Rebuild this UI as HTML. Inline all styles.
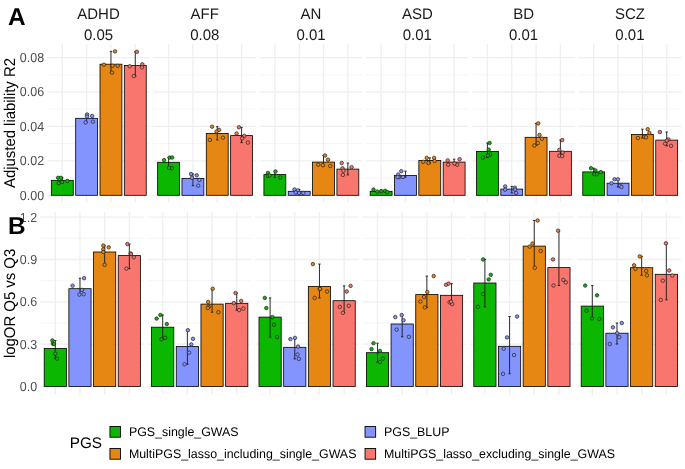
<!DOCTYPE html>
<html><head><meta charset="utf-8"><style>
html,body{margin:0;padding:0;background:#fff;}
svg{display:block;font-family:"Liberation Sans", sans-serif;text-rendering:geometricPrecision;}
.t{will-change:transform;}
</style></head><body>
<svg class="t" width="685" height="469" viewBox="0 0 685 469">
<rect width="685" height="469" fill="#fff"/>
<line x1="47.1" x2="149.85" y1="178.08" y2="178.08" stroke="#F4F4F4" stroke-width="0.9"/>
<line x1="47.1" x2="149.85" y1="143.64" y2="143.64" stroke="#F4F4F4" stroke-width="0.9"/>
<line x1="47.1" x2="149.85" y1="109.2" y2="109.2" stroke="#F4F4F4" stroke-width="0.9"/>
<line x1="47.1" x2="149.85" y1="74.76" y2="74.76" stroke="#F4F4F4" stroke-width="0.9"/>
<line x1="47.1" x2="149.85" y1="195.3" y2="195.3" stroke="#EFEFEF" stroke-width="1.3"/>
<line x1="47.1" x2="149.85" y1="160.86" y2="160.86" stroke="#EFEFEF" stroke-width="1.3"/>
<line x1="47.1" x2="149.85" y1="126.42" y2="126.42" stroke="#EFEFEF" stroke-width="1.3"/>
<line x1="47.1" x2="149.85" y1="91.98" y2="91.98" stroke="#EFEFEF" stroke-width="1.3"/>
<line x1="47.1" x2="149.85" y1="57.54" y2="57.54" stroke="#EFEFEF" stroke-width="1.3"/>
<line x1="62.3" x2="62.3" y1="44" y2="202.6" stroke="#EFEFEF" stroke-width="1.3"/>
<line x1="86.63" x2="86.63" y1="44" y2="202.6" stroke="#EFEFEF" stroke-width="1.3"/>
<line x1="110.96" x2="110.96" y1="44" y2="202.6" stroke="#EFEFEF" stroke-width="1.3"/>
<line x1="135.29" x2="135.29" y1="44" y2="202.6" stroke="#EFEFEF" stroke-width="1.3"/>
<rect x="51.35" y="180.3" width="21.9" height="15" fill="#0CB702" stroke="#000" stroke-width="0.8"/>
<rect x="75.68" y="118.3" width="21.9" height="77" fill="#8494FF" stroke="#000" stroke-width="0.8"/>
<rect x="100.01" y="64.2" width="21.9" height="131.1" fill="#E68613" stroke="#000" stroke-width="0.8"/>
<rect x="124.34" y="65.4" width="21.9" height="129.9" fill="#F8766D" stroke="#000" stroke-width="0.8"/>
<path d="M62.3 177.8V183.2M61.1 177.8H63.5M61.1 183.2H63.5" stroke="#1a1a1a" stroke-width="0.9" fill="none"/>
<circle cx="58.1" cy="177.8" r="1.75" fill="#0CB702" stroke="#222" stroke-width="0.7"/>
<circle cx="60.9" cy="177.8" r="1.75" fill="#0CB702" stroke="#222" stroke-width="0.7"/>
<circle cx="58.7" cy="183.2" r="1.75" fill="#0CB702" stroke="#222" stroke-width="0.7"/>
<circle cx="67.3" cy="181" r="1.75" fill="#0CB702" stroke="#222" stroke-width="0.7"/>
<circle cx="62" cy="182" r="1.75" fill="#0CB702" stroke="#222" stroke-width="0.7"/>
<path d="M86.63 114.5V122.4M85.43 114.5H87.83M85.43 122.4H87.83" stroke="#1a1a1a" stroke-width="0.9" fill="none"/>
<circle cx="87.1" cy="114.5" r="1.75" fill="#8494FF" stroke="#222" stroke-width="0.7"/>
<circle cx="87" cy="116.5" r="1.75" fill="#8494FF" stroke="#222" stroke-width="0.7"/>
<circle cx="92.2" cy="116" r="1.75" fill="#8494FF" stroke="#222" stroke-width="0.7"/>
<circle cx="85.6" cy="122.4" r="1.75" fill="#8494FF" stroke="#222" stroke-width="0.7"/>
<circle cx="92.8" cy="121.7" r="1.75" fill="#8494FF" stroke="#222" stroke-width="0.7"/>
<path d="M110.96 51.4V72.6M109.76 51.4H112.16M109.76 72.6H112.16" stroke="#1a1a1a" stroke-width="0.9" fill="none"/>
<circle cx="115" cy="51.4" r="1.75" fill="#E68613" stroke="#222" stroke-width="0.7"/>
<circle cx="103.9" cy="64.7" r="1.75" fill="#E68613" stroke="#222" stroke-width="0.7"/>
<circle cx="112.6" cy="65.8" r="1.75" fill="#E68613" stroke="#222" stroke-width="0.7"/>
<circle cx="117.7" cy="65.8" r="1.75" fill="#E68613" stroke="#222" stroke-width="0.7"/>
<circle cx="112" cy="72.6" r="1.75" fill="#E68613" stroke="#222" stroke-width="0.7"/>
<path d="M135.29 51.8V76.1M134.09 51.8H136.49M134.09 76.1H136.49" stroke="#1a1a1a" stroke-width="0.9" fill="none"/>
<circle cx="136.9" cy="51.8" r="1.75" fill="#F8766D" stroke="#222" stroke-width="0.7"/>
<circle cx="129.7" cy="66.3" r="1.75" fill="#F8766D" stroke="#222" stroke-width="0.7"/>
<circle cx="142.3" cy="64.3" r="1.75" fill="#F8766D" stroke="#222" stroke-width="0.7"/>
<circle cx="141.9" cy="67.3" r="1.75" fill="#F8766D" stroke="#222" stroke-width="0.7"/>
<circle cx="133.8" cy="76.1" r="1.75" fill="#F8766D" stroke="#222" stroke-width="0.7"/>
<line x1="153.38" x2="256.13" y1="178.08" y2="178.08" stroke="#F4F4F4" stroke-width="0.9"/>
<line x1="153.38" x2="256.13" y1="143.64" y2="143.64" stroke="#F4F4F4" stroke-width="0.9"/>
<line x1="153.38" x2="256.13" y1="109.2" y2="109.2" stroke="#F4F4F4" stroke-width="0.9"/>
<line x1="153.38" x2="256.13" y1="74.76" y2="74.76" stroke="#F4F4F4" stroke-width="0.9"/>
<line x1="153.38" x2="256.13" y1="195.3" y2="195.3" stroke="#EFEFEF" stroke-width="1.3"/>
<line x1="153.38" x2="256.13" y1="160.86" y2="160.86" stroke="#EFEFEF" stroke-width="1.3"/>
<line x1="153.38" x2="256.13" y1="126.42" y2="126.42" stroke="#EFEFEF" stroke-width="1.3"/>
<line x1="153.38" x2="256.13" y1="91.98" y2="91.98" stroke="#EFEFEF" stroke-width="1.3"/>
<line x1="153.38" x2="256.13" y1="57.54" y2="57.54" stroke="#EFEFEF" stroke-width="1.3"/>
<line x1="168.58" x2="168.58" y1="44" y2="202.6" stroke="#EFEFEF" stroke-width="1.3"/>
<line x1="192.91" x2="192.91" y1="44" y2="202.6" stroke="#EFEFEF" stroke-width="1.3"/>
<line x1="217.24" x2="217.24" y1="44" y2="202.6" stroke="#EFEFEF" stroke-width="1.3"/>
<line x1="241.57" x2="241.57" y1="44" y2="202.6" stroke="#EFEFEF" stroke-width="1.3"/>
<rect x="157.63" y="162.3" width="21.9" height="33" fill="#0CB702" stroke="#000" stroke-width="0.8"/>
<rect x="181.96" y="178.5" width="21.9" height="16.8" fill="#8494FF" stroke="#000" stroke-width="0.8"/>
<rect x="206.29" y="133.5" width="21.9" height="61.8" fill="#E68613" stroke="#000" stroke-width="0.8"/>
<rect x="230.62" y="135.6" width="21.9" height="59.7" fill="#F8766D" stroke="#000" stroke-width="0.8"/>
<path d="M168.58 157.6V168.2M167.38 157.6H169.78M167.38 168.2H169.78" stroke="#1a1a1a" stroke-width="0.9" fill="none"/>
<circle cx="164.1" cy="160.1" r="1.75" fill="#0CB702" stroke="#222" stroke-width="0.7"/>
<circle cx="169.6" cy="157.6" r="1.75" fill="#0CB702" stroke="#222" stroke-width="0.7"/>
<circle cx="172.2" cy="157.6" r="1.75" fill="#0CB702" stroke="#222" stroke-width="0.7"/>
<circle cx="171.8" cy="168.2" r="1.75" fill="#0CB702" stroke="#222" stroke-width="0.7"/>
<circle cx="169" cy="167.8" r="1.75" fill="#0CB702" stroke="#222" stroke-width="0.7"/>
<path d="M192.91 174V185.7M191.71 174H194.11M191.71 185.7H194.11" stroke="#1a1a1a" stroke-width="0.9" fill="none"/>
<circle cx="191" cy="174" r="1.75" fill="#8494FF" stroke="#222" stroke-width="0.7"/>
<circle cx="196.7" cy="175.3" r="1.75" fill="#8494FF" stroke="#222" stroke-width="0.7"/>
<circle cx="192" cy="177.8" r="1.75" fill="#8494FF" stroke="#222" stroke-width="0.7"/>
<circle cx="199.3" cy="180" r="1.75" fill="#8494FF" stroke="#222" stroke-width="0.7"/>
<circle cx="198.2" cy="185.7" r="1.75" fill="#8494FF" stroke="#222" stroke-width="0.7"/>
<path d="M217.24 126.7V139.9M216.04 126.7H218.44M216.04 139.9H218.44" stroke="#1a1a1a" stroke-width="0.9" fill="none"/>
<circle cx="212.1" cy="126.7" r="1.75" fill="#E68613" stroke="#222" stroke-width="0.7"/>
<circle cx="219.1" cy="129.9" r="1.75" fill="#E68613" stroke="#222" stroke-width="0.7"/>
<circle cx="216.5" cy="131.6" r="1.75" fill="#E68613" stroke="#222" stroke-width="0.7"/>
<circle cx="209.9" cy="139.9" r="1.75" fill="#E68613" stroke="#222" stroke-width="0.7"/>
<circle cx="222.9" cy="137.7" r="1.75" fill="#E68613" stroke="#222" stroke-width="0.7"/>
<path d="M241.57 127.3V142.6M240.37 127.3H242.77M240.37 142.6H242.77" stroke="#1a1a1a" stroke-width="0.9" fill="none"/>
<circle cx="238.9" cy="127.3" r="1.75" fill="#F8766D" stroke="#222" stroke-width="0.7"/>
<circle cx="236.6" cy="133.5" r="1.75" fill="#F8766D" stroke="#222" stroke-width="0.7"/>
<circle cx="244.3" cy="135.8" r="1.75" fill="#F8766D" stroke="#222" stroke-width="0.7"/>
<circle cx="242.1" cy="138.4" r="1.75" fill="#F8766D" stroke="#222" stroke-width="0.7"/>
<circle cx="247.9" cy="142.6" r="1.75" fill="#F8766D" stroke="#222" stroke-width="0.7"/>
<line x1="259.66" x2="362.41" y1="178.08" y2="178.08" stroke="#F4F4F4" stroke-width="0.9"/>
<line x1="259.66" x2="362.41" y1="143.64" y2="143.64" stroke="#F4F4F4" stroke-width="0.9"/>
<line x1="259.66" x2="362.41" y1="109.2" y2="109.2" stroke="#F4F4F4" stroke-width="0.9"/>
<line x1="259.66" x2="362.41" y1="74.76" y2="74.76" stroke="#F4F4F4" stroke-width="0.9"/>
<line x1="259.66" x2="362.41" y1="195.3" y2="195.3" stroke="#EFEFEF" stroke-width="1.3"/>
<line x1="259.66" x2="362.41" y1="160.86" y2="160.86" stroke="#EFEFEF" stroke-width="1.3"/>
<line x1="259.66" x2="362.41" y1="126.42" y2="126.42" stroke="#EFEFEF" stroke-width="1.3"/>
<line x1="259.66" x2="362.41" y1="91.98" y2="91.98" stroke="#EFEFEF" stroke-width="1.3"/>
<line x1="259.66" x2="362.41" y1="57.54" y2="57.54" stroke="#EFEFEF" stroke-width="1.3"/>
<line x1="274.86" x2="274.86" y1="44" y2="202.6" stroke="#EFEFEF" stroke-width="1.3"/>
<line x1="299.19" x2="299.19" y1="44" y2="202.6" stroke="#EFEFEF" stroke-width="1.3"/>
<line x1="323.52" x2="323.52" y1="44" y2="202.6" stroke="#EFEFEF" stroke-width="1.3"/>
<line x1="347.85" x2="347.85" y1="44" y2="202.6" stroke="#EFEFEF" stroke-width="1.3"/>
<rect x="263.91" y="174.6" width="21.9" height="20.7" fill="#0CB702" stroke="#000" stroke-width="0.8"/>
<rect x="288.24" y="191.3" width="21.9" height="4" fill="#8494FF" stroke="#000" stroke-width="0.8"/>
<rect x="312.57" y="162.1" width="21.9" height="33.2" fill="#E68613" stroke="#000" stroke-width="0.8"/>
<rect x="336.9" y="169.1" width="21.9" height="26.2" fill="#F8766D" stroke="#000" stroke-width="0.8"/>
<path d="M274.86 171.5V177.5M273.66 171.5H276.06M273.66 177.5H276.06" stroke="#1a1a1a" stroke-width="0.9" fill="none"/>
<circle cx="267.9" cy="172.9" r="1.75" fill="#0CB702" stroke="#222" stroke-width="0.7"/>
<circle cx="275.5" cy="171.5" r="1.75" fill="#0CB702" stroke="#222" stroke-width="0.7"/>
<circle cx="267.9" cy="175.8" r="1.75" fill="#0CB702" stroke="#222" stroke-width="0.7"/>
<circle cx="269.6" cy="175.4" r="1.75" fill="#0CB702" stroke="#222" stroke-width="0.7"/>
<circle cx="280.3" cy="177.5" r="1.75" fill="#0CB702" stroke="#222" stroke-width="0.7"/>
<path d="M299.19 189.4V193M297.99 189.4H300.39M297.99 193H300.39" stroke="#1a1a1a" stroke-width="0.9" fill="none"/>
<circle cx="294.5" cy="189.4" r="1.75" fill="#8494FF" stroke="#222" stroke-width="0.7"/>
<circle cx="297.9" cy="190.4" r="1.75" fill="#8494FF" stroke="#222" stroke-width="0.7"/>
<circle cx="295.7" cy="192.5" r="1.75" fill="#8494FF" stroke="#222" stroke-width="0.7"/>
<circle cx="299.1" cy="193" r="1.75" fill="#8494FF" stroke="#222" stroke-width="0.7"/>
<circle cx="303.3" cy="193" r="1.75" fill="#8494FF" stroke="#222" stroke-width="0.7"/>
<path d="M323.52 155.5V166M322.32 155.5H324.72M322.32 166H324.72" stroke="#1a1a1a" stroke-width="0.9" fill="none"/>
<circle cx="325" cy="155.5" r="1.75" fill="#E68613" stroke="#222" stroke-width="0.7"/>
<circle cx="328" cy="159.7" r="1.75" fill="#E68613" stroke="#222" stroke-width="0.7"/>
<circle cx="318.2" cy="164.7" r="1.75" fill="#E68613" stroke="#222" stroke-width="0.7"/>
<circle cx="322.9" cy="165.2" r="1.75" fill="#E68613" stroke="#222" stroke-width="0.7"/>
<circle cx="330.3" cy="166" r="1.75" fill="#E68613" stroke="#222" stroke-width="0.7"/>
<path d="M347.85 163V174.9M346.65 163H349.05M346.65 174.9H349.05" stroke="#1a1a1a" stroke-width="0.9" fill="none"/>
<circle cx="341.7" cy="163" r="1.75" fill="#F8766D" stroke="#222" stroke-width="0.7"/>
<circle cx="342.5" cy="168.3" r="1.75" fill="#F8766D" stroke="#222" stroke-width="0.7"/>
<circle cx="351.6" cy="167.2" r="1.75" fill="#F8766D" stroke="#222" stroke-width="0.7"/>
<circle cx="343.4" cy="170.8" r="1.75" fill="#F8766D" stroke="#222" stroke-width="0.7"/>
<circle cx="342.9" cy="174.9" r="1.75" fill="#F8766D" stroke="#222" stroke-width="0.7"/>
<line x1="365.94" x2="468.69" y1="178.08" y2="178.08" stroke="#F4F4F4" stroke-width="0.9"/>
<line x1="365.94" x2="468.69" y1="143.64" y2="143.64" stroke="#F4F4F4" stroke-width="0.9"/>
<line x1="365.94" x2="468.69" y1="109.2" y2="109.2" stroke="#F4F4F4" stroke-width="0.9"/>
<line x1="365.94" x2="468.69" y1="74.76" y2="74.76" stroke="#F4F4F4" stroke-width="0.9"/>
<line x1="365.94" x2="468.69" y1="195.3" y2="195.3" stroke="#EFEFEF" stroke-width="1.3"/>
<line x1="365.94" x2="468.69" y1="160.86" y2="160.86" stroke="#EFEFEF" stroke-width="1.3"/>
<line x1="365.94" x2="468.69" y1="126.42" y2="126.42" stroke="#EFEFEF" stroke-width="1.3"/>
<line x1="365.94" x2="468.69" y1="91.98" y2="91.98" stroke="#EFEFEF" stroke-width="1.3"/>
<line x1="365.94" x2="468.69" y1="57.54" y2="57.54" stroke="#EFEFEF" stroke-width="1.3"/>
<line x1="381.14" x2="381.14" y1="44" y2="202.6" stroke="#EFEFEF" stroke-width="1.3"/>
<line x1="405.47" x2="405.47" y1="44" y2="202.6" stroke="#EFEFEF" stroke-width="1.3"/>
<line x1="429.8" x2="429.8" y1="44" y2="202.6" stroke="#EFEFEF" stroke-width="1.3"/>
<line x1="454.13" x2="454.13" y1="44" y2="202.6" stroke="#EFEFEF" stroke-width="1.3"/>
<rect x="370.19" y="191.3" width="21.9" height="4" fill="#0CB702" stroke="#000" stroke-width="0.8"/>
<rect x="394.52" y="175.4" width="21.9" height="19.9" fill="#8494FF" stroke="#000" stroke-width="0.8"/>
<rect x="418.85" y="160.4" width="21.9" height="34.9" fill="#E68613" stroke="#000" stroke-width="0.8"/>
<rect x="443.18" y="162.1" width="21.9" height="33.2" fill="#F8766D" stroke="#000" stroke-width="0.8"/>
<path d="M381.14 189.6V192.1M379.94 189.6H382.34M379.94 192.1H382.34" stroke="#1a1a1a" stroke-width="0.9" fill="none"/>
<circle cx="373.5" cy="189.6" r="1.75" fill="#0CB702" stroke="#222" stroke-width="0.7"/>
<circle cx="377.3" cy="191.6" r="1.75" fill="#0CB702" stroke="#222" stroke-width="0.7"/>
<circle cx="381.2" cy="191.3" r="1.75" fill="#0CB702" stroke="#222" stroke-width="0.7"/>
<circle cx="385.1" cy="190.8" r="1.75" fill="#0CB702" stroke="#222" stroke-width="0.7"/>
<circle cx="387.2" cy="192.1" r="1.75" fill="#0CB702" stroke="#222" stroke-width="0.7"/>
<path d="M405.47 171.2V177.1M404.27 171.2H406.67M404.27 177.1H406.67" stroke="#1a1a1a" stroke-width="0.9" fill="none"/>
<circle cx="401.3" cy="171.2" r="1.75" fill="#8494FF" stroke="#222" stroke-width="0.7"/>
<circle cx="398.2" cy="174.6" r="1.75" fill="#8494FF" stroke="#222" stroke-width="0.7"/>
<circle cx="399.1" cy="177.1" r="1.75" fill="#8494FF" stroke="#222" stroke-width="0.7"/>
<circle cx="403" cy="177" r="1.75" fill="#8494FF" stroke="#222" stroke-width="0.7"/>
<circle cx="397.5" cy="177.1" r="1.75" fill="#8494FF" stroke="#222" stroke-width="0.7"/>
<path d="M429.8 157.9V163M428.6 157.9H431M428.6 163H431" stroke="#1a1a1a" stroke-width="0.9" fill="none"/>
<circle cx="426.7" cy="157.9" r="1.75" fill="#E68613" stroke="#222" stroke-width="0.7"/>
<circle cx="434.1" cy="157.9" r="1.75" fill="#E68613" stroke="#222" stroke-width="0.7"/>
<circle cx="423.3" cy="161.8" r="1.75" fill="#E68613" stroke="#222" stroke-width="0.7"/>
<circle cx="428.4" cy="163" r="1.75" fill="#E68613" stroke="#222" stroke-width="0.7"/>
<circle cx="434.6" cy="160.9" r="1.75" fill="#E68613" stroke="#222" stroke-width="0.7"/>
<path d="M454.13 159.2V164.7M452.93 159.2H455.33M452.93 164.7H455.33" stroke="#1a1a1a" stroke-width="0.9" fill="none"/>
<circle cx="447.7" cy="160.4" r="1.75" fill="#F8766D" stroke="#222" stroke-width="0.7"/>
<circle cx="459.6" cy="159.2" r="1.75" fill="#F8766D" stroke="#222" stroke-width="0.7"/>
<circle cx="448.2" cy="164.7" r="1.75" fill="#F8766D" stroke="#222" stroke-width="0.7"/>
<circle cx="457.1" cy="164.7" r="1.75" fill="#F8766D" stroke="#222" stroke-width="0.7"/>
<circle cx="454.5" cy="163.5" r="1.75" fill="#F8766D" stroke="#222" stroke-width="0.7"/>
<line x1="472.22" x2="574.97" y1="178.08" y2="178.08" stroke="#F4F4F4" stroke-width="0.9"/>
<line x1="472.22" x2="574.97" y1="143.64" y2="143.64" stroke="#F4F4F4" stroke-width="0.9"/>
<line x1="472.22" x2="574.97" y1="109.2" y2="109.2" stroke="#F4F4F4" stroke-width="0.9"/>
<line x1="472.22" x2="574.97" y1="74.76" y2="74.76" stroke="#F4F4F4" stroke-width="0.9"/>
<line x1="472.22" x2="574.97" y1="195.3" y2="195.3" stroke="#EFEFEF" stroke-width="1.3"/>
<line x1="472.22" x2="574.97" y1="160.86" y2="160.86" stroke="#EFEFEF" stroke-width="1.3"/>
<line x1="472.22" x2="574.97" y1="126.42" y2="126.42" stroke="#EFEFEF" stroke-width="1.3"/>
<line x1="472.22" x2="574.97" y1="91.98" y2="91.98" stroke="#EFEFEF" stroke-width="1.3"/>
<line x1="472.22" x2="574.97" y1="57.54" y2="57.54" stroke="#EFEFEF" stroke-width="1.3"/>
<line x1="487.42" x2="487.42" y1="44" y2="202.6" stroke="#EFEFEF" stroke-width="1.3"/>
<line x1="511.75" x2="511.75" y1="44" y2="202.6" stroke="#EFEFEF" stroke-width="1.3"/>
<line x1="536.08" x2="536.08" y1="44" y2="202.6" stroke="#EFEFEF" stroke-width="1.3"/>
<line x1="560.41" x2="560.41" y1="44" y2="202.6" stroke="#EFEFEF" stroke-width="1.3"/>
<rect x="476.47" y="151.5" width="21.9" height="43.8" fill="#0CB702" stroke="#000" stroke-width="0.8"/>
<rect x="500.8" y="189.1" width="21.9" height="6.2" fill="#8494FF" stroke="#000" stroke-width="0.8"/>
<rect x="525.13" y="137.3" width="21.9" height="58" fill="#E68613" stroke="#000" stroke-width="0.8"/>
<rect x="549.46" y="151.3" width="21.9" height="44" fill="#F8766D" stroke="#000" stroke-width="0.8"/>
<path d="M487.42 143V157.6M486.22 143H488.62M486.22 157.6H488.62" stroke="#1a1a1a" stroke-width="0.9" fill="none"/>
<circle cx="489.6" cy="143" r="1.75" fill="#0CB702" stroke="#222" stroke-width="0.7"/>
<circle cx="488.7" cy="149.7" r="1.75" fill="#0CB702" stroke="#222" stroke-width="0.7"/>
<circle cx="490.2" cy="154.5" r="1.75" fill="#0CB702" stroke="#222" stroke-width="0.7"/>
<circle cx="482.9" cy="157.6" r="1.75" fill="#0CB702" stroke="#222" stroke-width="0.7"/>
<circle cx="487.9" cy="155.5" r="1.75" fill="#0CB702" stroke="#222" stroke-width="0.7"/>
<path d="M511.75 186.4V192.9M510.55 186.4H512.95M510.55 192.9H512.95" stroke="#1a1a1a" stroke-width="0.9" fill="none"/>
<circle cx="505.2" cy="186.4" r="1.75" fill="#8494FF" stroke="#222" stroke-width="0.7"/>
<circle cx="505.2" cy="189.7" r="1.75" fill="#8494FF" stroke="#222" stroke-width="0.7"/>
<circle cx="514.8" cy="187.7" r="1.75" fill="#8494FF" stroke="#222" stroke-width="0.7"/>
<circle cx="516.1" cy="192.9" r="1.75" fill="#8494FF" stroke="#222" stroke-width="0.7"/>
<circle cx="515" cy="189.5" r="1.75" fill="#8494FF" stroke="#222" stroke-width="0.7"/>
<path d="M536.08 123.4V145.5M534.88 123.4H537.28M534.88 145.5H537.28" stroke="#1a1a1a" stroke-width="0.9" fill="none"/>
<circle cx="538.2" cy="123.4" r="1.75" fill="#E68613" stroke="#222" stroke-width="0.7"/>
<circle cx="539.5" cy="135" r="1.75" fill="#E68613" stroke="#222" stroke-width="0.7"/>
<circle cx="542" cy="138.8" r="1.75" fill="#E68613" stroke="#222" stroke-width="0.7"/>
<circle cx="537.8" cy="143" r="1.75" fill="#E68613" stroke="#222" stroke-width="0.7"/>
<circle cx="534.3" cy="145.5" r="1.75" fill="#E68613" stroke="#222" stroke-width="0.7"/>
<path d="M560.41 140.1V156.1M559.21 140.1H561.61M559.21 156.1H561.61" stroke="#1a1a1a" stroke-width="0.9" fill="none"/>
<circle cx="562.2" cy="140.1" r="1.75" fill="#F8766D" stroke="#222" stroke-width="0.7"/>
<circle cx="559.3" cy="149.9" r="1.75" fill="#F8766D" stroke="#222" stroke-width="0.7"/>
<circle cx="562.7" cy="152.6" r="1.75" fill="#F8766D" stroke="#222" stroke-width="0.7"/>
<circle cx="559.3" cy="155.7" r="1.75" fill="#F8766D" stroke="#222" stroke-width="0.7"/>
<circle cx="562.2" cy="156.1" r="1.75" fill="#F8766D" stroke="#222" stroke-width="0.7"/>
<line x1="578.5" x2="681.25" y1="178.08" y2="178.08" stroke="#F4F4F4" stroke-width="0.9"/>
<line x1="578.5" x2="681.25" y1="143.64" y2="143.64" stroke="#F4F4F4" stroke-width="0.9"/>
<line x1="578.5" x2="681.25" y1="109.2" y2="109.2" stroke="#F4F4F4" stroke-width="0.9"/>
<line x1="578.5" x2="681.25" y1="74.76" y2="74.76" stroke="#F4F4F4" stroke-width="0.9"/>
<line x1="578.5" x2="681.25" y1="195.3" y2="195.3" stroke="#EFEFEF" stroke-width="1.3"/>
<line x1="578.5" x2="681.25" y1="160.86" y2="160.86" stroke="#EFEFEF" stroke-width="1.3"/>
<line x1="578.5" x2="681.25" y1="126.42" y2="126.42" stroke="#EFEFEF" stroke-width="1.3"/>
<line x1="578.5" x2="681.25" y1="91.98" y2="91.98" stroke="#EFEFEF" stroke-width="1.3"/>
<line x1="578.5" x2="681.25" y1="57.54" y2="57.54" stroke="#EFEFEF" stroke-width="1.3"/>
<line x1="593.7" x2="593.7" y1="44" y2="202.6" stroke="#EFEFEF" stroke-width="1.3"/>
<line x1="618.03" x2="618.03" y1="44" y2="202.6" stroke="#EFEFEF" stroke-width="1.3"/>
<line x1="642.36" x2="642.36" y1="44" y2="202.6" stroke="#EFEFEF" stroke-width="1.3"/>
<line x1="666.69" x2="666.69" y1="44" y2="202.6" stroke="#EFEFEF" stroke-width="1.3"/>
<rect x="582.75" y="171.9" width="21.9" height="23.4" fill="#0CB702" stroke="#000" stroke-width="0.8"/>
<rect x="607.08" y="183.2" width="21.9" height="12.1" fill="#8494FF" stroke="#000" stroke-width="0.8"/>
<rect x="631.41" y="134.5" width="21.9" height="60.8" fill="#E68613" stroke="#000" stroke-width="0.8"/>
<rect x="655.74" y="140.1" width="21.9" height="55.2" fill="#F8766D" stroke="#000" stroke-width="0.8"/>
<path d="M593.7 168.2V174.2M592.5 168.2H594.9M592.5 174.2H594.9" stroke="#1a1a1a" stroke-width="0.9" fill="none"/>
<circle cx="591" cy="168.2" r="1.75" fill="#0CB702" stroke="#222" stroke-width="0.7"/>
<circle cx="595.5" cy="170.4" r="1.75" fill="#0CB702" stroke="#222" stroke-width="0.7"/>
<circle cx="600.8" cy="172.1" r="1.75" fill="#0CB702" stroke="#222" stroke-width="0.7"/>
<circle cx="594.4" cy="174.2" r="1.75" fill="#0CB702" stroke="#222" stroke-width="0.7"/>
<circle cx="597" cy="174.2" r="1.75" fill="#0CB702" stroke="#222" stroke-width="0.7"/>
<path d="M618.03 179.3V187M616.83 179.3H619.23M616.83 187H619.23" stroke="#1a1a1a" stroke-width="0.9" fill="none"/>
<circle cx="614.5" cy="179.3" r="1.75" fill="#8494FF" stroke="#222" stroke-width="0.7"/>
<circle cx="617.9" cy="179.3" r="1.75" fill="#8494FF" stroke="#222" stroke-width="0.7"/>
<circle cx="611.5" cy="183.2" r="1.75" fill="#8494FF" stroke="#222" stroke-width="0.7"/>
<circle cx="620" cy="185.7" r="1.75" fill="#8494FF" stroke="#222" stroke-width="0.7"/>
<circle cx="621.5" cy="187" r="1.75" fill="#8494FF" stroke="#222" stroke-width="0.7"/>
<path d="M642.36 129.2V138M641.16 129.2H643.56M641.16 138H643.56" stroke="#1a1a1a" stroke-width="0.9" fill="none"/>
<circle cx="647.7" cy="129.2" r="1.75" fill="#E68613" stroke="#222" stroke-width="0.7"/>
<circle cx="649.4" cy="133" r="1.75" fill="#E68613" stroke="#222" stroke-width="0.7"/>
<circle cx="637.9" cy="138" r="1.75" fill="#E68613" stroke="#222" stroke-width="0.7"/>
<circle cx="644.3" cy="136.7" r="1.75" fill="#E68613" stroke="#222" stroke-width="0.7"/>
<circle cx="646" cy="137.3" r="1.75" fill="#E68613" stroke="#222" stroke-width="0.7"/>
<path d="M666.69 132V145.8M665.49 132H667.89M665.49 145.8H667.89" stroke="#1a1a1a" stroke-width="0.9" fill="none"/>
<circle cx="659.9" cy="132" r="1.75" fill="#F8766D" stroke="#222" stroke-width="0.7"/>
<circle cx="668.4" cy="139.4" r="1.75" fill="#F8766D" stroke="#222" stroke-width="0.7"/>
<circle cx="665.2" cy="143.7" r="1.75" fill="#F8766D" stroke="#222" stroke-width="0.7"/>
<circle cx="671" cy="145.8" r="1.75" fill="#F8766D" stroke="#222" stroke-width="0.7"/>
<circle cx="666.9" cy="140.5" r="1.75" fill="#F8766D" stroke="#222" stroke-width="0.7"/>
<line x1="40.5" x2="143.8" y1="365.25" y2="365.25" stroke="#F4F4F4" stroke-width="0.9"/>
<line x1="40.5" x2="143.8" y1="322.95" y2="322.95" stroke="#F4F4F4" stroke-width="0.9"/>
<line x1="40.5" x2="143.8" y1="280.65" y2="280.65" stroke="#F4F4F4" stroke-width="0.9"/>
<line x1="40.5" x2="143.8" y1="238.35" y2="238.35" stroke="#F4F4F4" stroke-width="0.9"/>
<line x1="40.5" x2="143.8" y1="386.4" y2="386.4" stroke="#EFEFEF" stroke-width="1.3"/>
<line x1="40.5" x2="143.8" y1="344.1" y2="344.1" stroke="#EFEFEF" stroke-width="1.3"/>
<line x1="40.5" x2="143.8" y1="301.8" y2="301.8" stroke="#EFEFEF" stroke-width="1.3"/>
<line x1="40.5" x2="143.8" y1="259.5" y2="259.5" stroke="#EFEFEF" stroke-width="1.3"/>
<line x1="40.5" x2="143.8" y1="217.2" y2="217.2" stroke="#EFEFEF" stroke-width="1.3"/>
<line x1="55.3" x2="55.3" y1="212" y2="394.9" stroke="#EFEFEF" stroke-width="1.3"/>
<line x1="79.98" x2="79.98" y1="212" y2="394.9" stroke="#EFEFEF" stroke-width="1.3"/>
<line x1="104.66" x2="104.66" y1="212" y2="394.9" stroke="#EFEFEF" stroke-width="1.3"/>
<line x1="129.34" x2="129.34" y1="212" y2="394.9" stroke="#EFEFEF" stroke-width="1.3"/>
<rect x="44.19" y="348.4" width="22.21" height="38" fill="#0CB702" stroke="#000" stroke-width="0.8"/>
<rect x="68.87" y="288.7" width="22.21" height="97.7" fill="#8494FF" stroke="#000" stroke-width="0.8"/>
<rect x="93.55" y="252" width="22.21" height="134.4" fill="#E68613" stroke="#000" stroke-width="0.8"/>
<rect x="118.23" y="255.6" width="22.21" height="130.8" fill="#F8766D" stroke="#000" stroke-width="0.8"/>
<path d="M55.3 340.5V358.6M54.1 340.5H56.5M54.1 358.6H56.5" stroke="#1a1a1a" stroke-width="0.9" fill="none"/>
<circle cx="52.4" cy="340.5" r="1.75" fill="#0CB702" stroke="#222" stroke-width="0.7"/>
<circle cx="52.8" cy="343.7" r="1.75" fill="#0CB702" stroke="#222" stroke-width="0.7"/>
<circle cx="54" cy="344" r="1.75" fill="#0CB702" stroke="#222" stroke-width="0.7"/>
<circle cx="55.4" cy="353.7" r="1.75" fill="#0CB702" stroke="#222" stroke-width="0.7"/>
<circle cx="57.1" cy="358.6" r="1.75" fill="#0CB702" stroke="#222" stroke-width="0.7"/>
<path d="M79.98 278.2V294.6M78.78 278.2H81.18M78.78 294.6H81.18" stroke="#1a1a1a" stroke-width="0.9" fill="none"/>
<circle cx="84.1" cy="278.2" r="1.75" fill="#8494FF" stroke="#222" stroke-width="0.7"/>
<circle cx="72.6" cy="285.7" r="1.75" fill="#8494FF" stroke="#222" stroke-width="0.7"/>
<circle cx="82" cy="289.9" r="1.75" fill="#8494FF" stroke="#222" stroke-width="0.7"/>
<circle cx="79.4" cy="294.6" r="1.75" fill="#8494FF" stroke="#222" stroke-width="0.7"/>
<circle cx="83.7" cy="294.2" r="1.75" fill="#8494FF" stroke="#222" stroke-width="0.7"/>
<path d="M104.66 245.6V264.8M103.46 245.6H105.86M103.46 264.8H105.86" stroke="#1a1a1a" stroke-width="0.9" fill="none"/>
<circle cx="103.3" cy="245.6" r="1.75" fill="#E68613" stroke="#222" stroke-width="0.7"/>
<circle cx="108.7" cy="247.3" r="1.75" fill="#E68613" stroke="#222" stroke-width="0.7"/>
<circle cx="103.3" cy="249.2" r="1.75" fill="#E68613" stroke="#222" stroke-width="0.7"/>
<circle cx="103.3" cy="252" r="1.75" fill="#E68613" stroke="#222" stroke-width="0.7"/>
<circle cx="104.6" cy="264.8" r="1.75" fill="#E68613" stroke="#222" stroke-width="0.7"/>
<path d="M129.34 244.1V268.6M128.14 244.1H130.54M128.14 268.6H130.54" stroke="#1a1a1a" stroke-width="0.9" fill="none"/>
<circle cx="127.4" cy="244.1" r="1.75" fill="#F8766D" stroke="#222" stroke-width="0.7"/>
<circle cx="130.6" cy="253.5" r="1.75" fill="#F8766D" stroke="#222" stroke-width="0.7"/>
<circle cx="133.8" cy="257.3" r="1.75" fill="#F8766D" stroke="#222" stroke-width="0.7"/>
<circle cx="126.4" cy="268.6" r="1.75" fill="#F8766D" stroke="#222" stroke-width="0.7"/>
<circle cx="131" cy="254" r="1.75" fill="#F8766D" stroke="#222" stroke-width="0.7"/>
<line x1="147.9" x2="251.2" y1="365.25" y2="365.25" stroke="#F4F4F4" stroke-width="0.9"/>
<line x1="147.9" x2="251.2" y1="322.95" y2="322.95" stroke="#F4F4F4" stroke-width="0.9"/>
<line x1="147.9" x2="251.2" y1="280.65" y2="280.65" stroke="#F4F4F4" stroke-width="0.9"/>
<line x1="147.9" x2="251.2" y1="238.35" y2="238.35" stroke="#F4F4F4" stroke-width="0.9"/>
<line x1="147.9" x2="251.2" y1="386.4" y2="386.4" stroke="#EFEFEF" stroke-width="1.3"/>
<line x1="147.9" x2="251.2" y1="344.1" y2="344.1" stroke="#EFEFEF" stroke-width="1.3"/>
<line x1="147.9" x2="251.2" y1="301.8" y2="301.8" stroke="#EFEFEF" stroke-width="1.3"/>
<line x1="147.9" x2="251.2" y1="259.5" y2="259.5" stroke="#EFEFEF" stroke-width="1.3"/>
<line x1="147.9" x2="251.2" y1="217.2" y2="217.2" stroke="#EFEFEF" stroke-width="1.3"/>
<line x1="162.7" x2="162.7" y1="212" y2="394.9" stroke="#EFEFEF" stroke-width="1.3"/>
<line x1="187.38" x2="187.38" y1="212" y2="394.9" stroke="#EFEFEF" stroke-width="1.3"/>
<line x1="212.06" x2="212.06" y1="212" y2="394.9" stroke="#EFEFEF" stroke-width="1.3"/>
<line x1="236.74" x2="236.74" y1="212" y2="394.9" stroke="#EFEFEF" stroke-width="1.3"/>
<rect x="151.59" y="327.2" width="22.21" height="59.2" fill="#0CB702" stroke="#000" stroke-width="0.8"/>
<rect x="176.27" y="346.4" width="22.21" height="40" fill="#8494FF" stroke="#000" stroke-width="0.8"/>
<rect x="200.95" y="304.1" width="22.21" height="82.3" fill="#E68613" stroke="#000" stroke-width="0.8"/>
<rect x="225.63" y="303.3" width="22.21" height="83.1" fill="#F8766D" stroke="#000" stroke-width="0.8"/>
<path d="M162.7 315V339.3M161.5 315H163.9M161.5 339.3H163.9" stroke="#1a1a1a" stroke-width="0.9" fill="none"/>
<circle cx="160.4" cy="315" r="1.75" fill="#0CB702" stroke="#222" stroke-width="0.7"/>
<circle cx="156.6" cy="318.6" r="1.75" fill="#0CB702" stroke="#222" stroke-width="0.7"/>
<circle cx="166.8" cy="324" r="1.75" fill="#0CB702" stroke="#222" stroke-width="0.7"/>
<circle cx="161.5" cy="339.3" r="1.75" fill="#0CB702" stroke="#222" stroke-width="0.7"/>
<circle cx="165.1" cy="337.8" r="1.75" fill="#0CB702" stroke="#222" stroke-width="0.7"/>
<path d="M187.38 330.2V364.3M186.18 330.2H188.58M186.18 364.3H188.58" stroke="#1a1a1a" stroke-width="0.9" fill="none"/>
<circle cx="187.9" cy="330.2" r="1.75" fill="#8494FF" stroke="#222" stroke-width="0.7"/>
<circle cx="193" cy="338.8" r="1.75" fill="#8494FF" stroke="#222" stroke-width="0.7"/>
<circle cx="191.3" cy="344.4" r="1.75" fill="#8494FF" stroke="#222" stroke-width="0.7"/>
<circle cx="189.1" cy="352.7" r="1.75" fill="#8494FF" stroke="#222" stroke-width="0.7"/>
<circle cx="184.5" cy="364.3" r="1.75" fill="#8494FF" stroke="#222" stroke-width="0.7"/>
<path d="M212.06 288.8V312.2M210.86 288.8H213.26M210.86 312.2H213.26" stroke="#1a1a1a" stroke-width="0.9" fill="none"/>
<circle cx="212.7" cy="288.8" r="1.75" fill="#E68613" stroke="#222" stroke-width="0.7"/>
<circle cx="208.2" cy="302" r="1.75" fill="#E68613" stroke="#222" stroke-width="0.7"/>
<circle cx="208.8" cy="306.9" r="1.75" fill="#E68613" stroke="#222" stroke-width="0.7"/>
<circle cx="207.8" cy="308" r="1.75" fill="#E68613" stroke="#222" stroke-width="0.7"/>
<circle cx="218.4" cy="312.2" r="1.75" fill="#E68613" stroke="#222" stroke-width="0.7"/>
<path d="M236.74 293V310.1M235.54 293H237.94M235.54 310.1H237.94" stroke="#1a1a1a" stroke-width="0.9" fill="none"/>
<circle cx="235.5" cy="293" r="1.75" fill="#F8766D" stroke="#222" stroke-width="0.7"/>
<circle cx="241.2" cy="300.9" r="1.75" fill="#F8766D" stroke="#222" stroke-width="0.7"/>
<circle cx="233.8" cy="303.1" r="1.75" fill="#F8766D" stroke="#222" stroke-width="0.7"/>
<circle cx="239.1" cy="310.1" r="1.75" fill="#F8766D" stroke="#222" stroke-width="0.7"/>
<circle cx="243.4" cy="308.6" r="1.75" fill="#F8766D" stroke="#222" stroke-width="0.7"/>
<line x1="255.3" x2="358.6" y1="365.25" y2="365.25" stroke="#F4F4F4" stroke-width="0.9"/>
<line x1="255.3" x2="358.6" y1="322.95" y2="322.95" stroke="#F4F4F4" stroke-width="0.9"/>
<line x1="255.3" x2="358.6" y1="280.65" y2="280.65" stroke="#F4F4F4" stroke-width="0.9"/>
<line x1="255.3" x2="358.6" y1="238.35" y2="238.35" stroke="#F4F4F4" stroke-width="0.9"/>
<line x1="255.3" x2="358.6" y1="386.4" y2="386.4" stroke="#EFEFEF" stroke-width="1.3"/>
<line x1="255.3" x2="358.6" y1="344.1" y2="344.1" stroke="#EFEFEF" stroke-width="1.3"/>
<line x1="255.3" x2="358.6" y1="301.8" y2="301.8" stroke="#EFEFEF" stroke-width="1.3"/>
<line x1="255.3" x2="358.6" y1="259.5" y2="259.5" stroke="#EFEFEF" stroke-width="1.3"/>
<line x1="255.3" x2="358.6" y1="217.2" y2="217.2" stroke="#EFEFEF" stroke-width="1.3"/>
<line x1="270.1" x2="270.1" y1="212" y2="394.9" stroke="#EFEFEF" stroke-width="1.3"/>
<line x1="294.78" x2="294.78" y1="212" y2="394.9" stroke="#EFEFEF" stroke-width="1.3"/>
<line x1="319.46" x2="319.46" y1="212" y2="394.9" stroke="#EFEFEF" stroke-width="1.3"/>
<line x1="344.14" x2="344.14" y1="212" y2="394.9" stroke="#EFEFEF" stroke-width="1.3"/>
<rect x="258.99" y="317.1" width="22.21" height="69.3" fill="#0CB702" stroke="#000" stroke-width="0.8"/>
<rect x="283.67" y="347.3" width="22.21" height="39.1" fill="#8494FF" stroke="#000" stroke-width="0.8"/>
<rect x="308.35" y="286.4" width="22.21" height="100" fill="#E68613" stroke="#000" stroke-width="0.8"/>
<rect x="333.03" y="300.7" width="22.21" height="85.7" fill="#F8766D" stroke="#000" stroke-width="0.8"/>
<path d="M270.1 297.9V337.1M268.9 297.9H271.3M268.9 337.1H271.3" stroke="#1a1a1a" stroke-width="0.9" fill="none"/>
<circle cx="264.8" cy="297.9" r="1.75" fill="#0CB702" stroke="#222" stroke-width="0.7"/>
<circle cx="266.3" cy="308.1" r="1.75" fill="#0CB702" stroke="#222" stroke-width="0.7"/>
<circle cx="272.4" cy="317.1" r="1.75" fill="#0CB702" stroke="#222" stroke-width="0.7"/>
<circle cx="274" cy="324.8" r="1.75" fill="#0CB702" stroke="#222" stroke-width="0.7"/>
<circle cx="277.1" cy="337.1" r="1.75" fill="#0CB702" stroke="#222" stroke-width="0.7"/>
<path d="M294.78 337.9V358.9M293.58 337.9H295.98M293.58 358.9H295.98" stroke="#1a1a1a" stroke-width="0.9" fill="none"/>
<circle cx="290.4" cy="339.1" r="1.75" fill="#8494FF" stroke="#222" stroke-width="0.7"/>
<circle cx="295" cy="337.9" r="1.75" fill="#8494FF" stroke="#222" stroke-width="0.7"/>
<circle cx="298.1" cy="346.6" r="1.75" fill="#8494FF" stroke="#222" stroke-width="0.7"/>
<circle cx="297.5" cy="354.5" r="1.75" fill="#8494FF" stroke="#222" stroke-width="0.7"/>
<circle cx="298.8" cy="358.9" r="1.75" fill="#8494FF" stroke="#222" stroke-width="0.7"/>
<path d="M319.46 264.1V297.9M318.26 264.1H320.66M318.26 297.9H320.66" stroke="#1a1a1a" stroke-width="0.9" fill="none"/>
<circle cx="312.9" cy="264.1" r="1.75" fill="#E68613" stroke="#222" stroke-width="0.7"/>
<circle cx="319.8" cy="288.9" r="1.75" fill="#E68613" stroke="#222" stroke-width="0.7"/>
<circle cx="327" cy="291.5" r="1.75" fill="#E68613" stroke="#222" stroke-width="0.7"/>
<circle cx="314.7" cy="297.9" r="1.75" fill="#E68613" stroke="#222" stroke-width="0.7"/>
<circle cx="320" cy="289" r="1.75" fill="#E68613" stroke="#222" stroke-width="0.7"/>
<path d="M344.14 285.9V312.8M342.94 285.9H345.34M342.94 312.8H345.34" stroke="#1a1a1a" stroke-width="0.9" fill="none"/>
<circle cx="350.6" cy="285.9" r="1.75" fill="#F8766D" stroke="#222" stroke-width="0.7"/>
<circle cx="346.7" cy="291.5" r="1.75" fill="#F8766D" stroke="#222" stroke-width="0.7"/>
<circle cx="339.8" cy="306.9" r="1.75" fill="#F8766D" stroke="#222" stroke-width="0.7"/>
<circle cx="348.8" cy="305.8" r="1.75" fill="#F8766D" stroke="#222" stroke-width="0.7"/>
<circle cx="342.9" cy="312.8" r="1.75" fill="#F8766D" stroke="#222" stroke-width="0.7"/>
<line x1="362.7" x2="466" y1="365.25" y2="365.25" stroke="#F4F4F4" stroke-width="0.9"/>
<line x1="362.7" x2="466" y1="322.95" y2="322.95" stroke="#F4F4F4" stroke-width="0.9"/>
<line x1="362.7" x2="466" y1="280.65" y2="280.65" stroke="#F4F4F4" stroke-width="0.9"/>
<line x1="362.7" x2="466" y1="238.35" y2="238.35" stroke="#F4F4F4" stroke-width="0.9"/>
<line x1="362.7" x2="466" y1="386.4" y2="386.4" stroke="#EFEFEF" stroke-width="1.3"/>
<line x1="362.7" x2="466" y1="344.1" y2="344.1" stroke="#EFEFEF" stroke-width="1.3"/>
<line x1="362.7" x2="466" y1="301.8" y2="301.8" stroke="#EFEFEF" stroke-width="1.3"/>
<line x1="362.7" x2="466" y1="259.5" y2="259.5" stroke="#EFEFEF" stroke-width="1.3"/>
<line x1="362.7" x2="466" y1="217.2" y2="217.2" stroke="#EFEFEF" stroke-width="1.3"/>
<line x1="377.5" x2="377.5" y1="212" y2="394.9" stroke="#EFEFEF" stroke-width="1.3"/>
<line x1="402.18" x2="402.18" y1="212" y2="394.9" stroke="#EFEFEF" stroke-width="1.3"/>
<line x1="426.86" x2="426.86" y1="212" y2="394.9" stroke="#EFEFEF" stroke-width="1.3"/>
<line x1="451.54" x2="451.54" y1="212" y2="394.9" stroke="#EFEFEF" stroke-width="1.3"/>
<rect x="366.39" y="352.7" width="22.21" height="33.7" fill="#0CB702" stroke="#000" stroke-width="0.8"/>
<rect x="391.07" y="324" width="22.21" height="62.4" fill="#8494FF" stroke="#000" stroke-width="0.8"/>
<rect x="415.75" y="294.6" width="22.21" height="91.8" fill="#E68613" stroke="#000" stroke-width="0.8"/>
<rect x="440.43" y="295.3" width="22.21" height="91.1" fill="#F8766D" stroke="#000" stroke-width="0.8"/>
<path d="M377.5 343.2V362M376.3 343.2H378.7M376.3 362H378.7" stroke="#1a1a1a" stroke-width="0.9" fill="none"/>
<circle cx="373.5" cy="343.2" r="1.75" fill="#0CB702" stroke="#222" stroke-width="0.7"/>
<circle cx="371.5" cy="349.1" r="1.75" fill="#0CB702" stroke="#222" stroke-width="0.7"/>
<circle cx="379.9" cy="350.9" r="1.75" fill="#0CB702" stroke="#222" stroke-width="0.7"/>
<circle cx="383" cy="358.6" r="1.75" fill="#0CB702" stroke="#222" stroke-width="0.7"/>
<circle cx="379.9" cy="362" r="1.75" fill="#0CB702" stroke="#222" stroke-width="0.7"/>
<path d="M402.18 315.1V336.8M400.98 315.1H403.38M400.98 336.8H403.38" stroke="#1a1a1a" stroke-width="0.9" fill="none"/>
<circle cx="395.3" cy="317.1" r="1.75" fill="#8494FF" stroke="#222" stroke-width="0.7"/>
<circle cx="401.7" cy="315.1" r="1.75" fill="#8494FF" stroke="#222" stroke-width="0.7"/>
<circle cx="403.5" cy="320.2" r="1.75" fill="#8494FF" stroke="#222" stroke-width="0.7"/>
<circle cx="396.6" cy="329.7" r="1.75" fill="#8494FF" stroke="#222" stroke-width="0.7"/>
<circle cx="408.9" cy="336.8" r="1.75" fill="#8494FF" stroke="#222" stroke-width="0.7"/>
<path d="M426.86 276.1V307.4M425.66 276.1H428.06M425.66 307.4H428.06" stroke="#1a1a1a" stroke-width="0.9" fill="none"/>
<circle cx="433.7" cy="276.1" r="1.75" fill="#E68613" stroke="#222" stroke-width="0.7"/>
<circle cx="427.3" cy="292" r="1.75" fill="#E68613" stroke="#222" stroke-width="0.7"/>
<circle cx="424" cy="297.1" r="1.75" fill="#E68613" stroke="#222" stroke-width="0.7"/>
<circle cx="420.4" cy="301.5" r="1.75" fill="#E68613" stroke="#222" stroke-width="0.7"/>
<circle cx="424.8" cy="307.4" r="1.75" fill="#E68613" stroke="#222" stroke-width="0.7"/>
<path d="M451.54 283.6V304.1M450.34 283.6H452.74M450.34 304.1H452.74" stroke="#1a1a1a" stroke-width="0.9" fill="none"/>
<circle cx="446" cy="284.8" r="1.75" fill="#F8766D" stroke="#222" stroke-width="0.7"/>
<circle cx="448.6" cy="283.6" r="1.75" fill="#F8766D" stroke="#222" stroke-width="0.7"/>
<circle cx="449.6" cy="302.3" r="1.75" fill="#F8766D" stroke="#222" stroke-width="0.7"/>
<circle cx="452.2" cy="304.1" r="1.75" fill="#F8766D" stroke="#222" stroke-width="0.7"/>
<circle cx="451" cy="301.7" r="1.75" fill="#F8766D" stroke="#222" stroke-width="0.7"/>
<line x1="470.1" x2="573.4" y1="365.25" y2="365.25" stroke="#F4F4F4" stroke-width="0.9"/>
<line x1="470.1" x2="573.4" y1="322.95" y2="322.95" stroke="#F4F4F4" stroke-width="0.9"/>
<line x1="470.1" x2="573.4" y1="280.65" y2="280.65" stroke="#F4F4F4" stroke-width="0.9"/>
<line x1="470.1" x2="573.4" y1="238.35" y2="238.35" stroke="#F4F4F4" stroke-width="0.9"/>
<line x1="470.1" x2="573.4" y1="386.4" y2="386.4" stroke="#EFEFEF" stroke-width="1.3"/>
<line x1="470.1" x2="573.4" y1="344.1" y2="344.1" stroke="#EFEFEF" stroke-width="1.3"/>
<line x1="470.1" x2="573.4" y1="301.8" y2="301.8" stroke="#EFEFEF" stroke-width="1.3"/>
<line x1="470.1" x2="573.4" y1="259.5" y2="259.5" stroke="#EFEFEF" stroke-width="1.3"/>
<line x1="470.1" x2="573.4" y1="217.2" y2="217.2" stroke="#EFEFEF" stroke-width="1.3"/>
<line x1="484.9" x2="484.9" y1="212" y2="394.9" stroke="#EFEFEF" stroke-width="1.3"/>
<line x1="509.58" x2="509.58" y1="212" y2="394.9" stroke="#EFEFEF" stroke-width="1.3"/>
<line x1="534.26" x2="534.26" y1="212" y2="394.9" stroke="#EFEFEF" stroke-width="1.3"/>
<line x1="558.94" x2="558.94" y1="212" y2="394.9" stroke="#EFEFEF" stroke-width="1.3"/>
<rect x="473.79" y="283" width="22.21" height="103.4" fill="#0CB702" stroke="#000" stroke-width="0.8"/>
<rect x="498.47" y="346.3" width="22.21" height="40.1" fill="#8494FF" stroke="#000" stroke-width="0.8"/>
<rect x="523.15" y="246.1" width="22.21" height="140.3" fill="#E68613" stroke="#000" stroke-width="0.8"/>
<rect x="547.83" y="267.6" width="22.21" height="118.8" fill="#F8766D" stroke="#000" stroke-width="0.8"/>
<path d="M484.9 259.4V306.8M483.7 259.4H486.1M483.7 306.8H486.1" stroke="#1a1a1a" stroke-width="0.9" fill="none"/>
<circle cx="483.1" cy="259.4" r="1.75" fill="#0CB702" stroke="#222" stroke-width="0.7"/>
<circle cx="490.8" cy="274.8" r="1.75" fill="#0CB702" stroke="#222" stroke-width="0.7"/>
<circle cx="488.7" cy="279.4" r="1.75" fill="#0CB702" stroke="#222" stroke-width="0.7"/>
<circle cx="483.1" cy="294" r="1.75" fill="#0CB702" stroke="#222" stroke-width="0.7"/>
<circle cx="478" cy="306.8" r="1.75" fill="#0CB702" stroke="#222" stroke-width="0.7"/>
<path d="M509.58 316.5V373.8M508.38 316.5H510.78M508.38 373.8H510.78" stroke="#1a1a1a" stroke-width="0.9" fill="none"/>
<circle cx="517.1" cy="316.5" r="1.75" fill="#8494FF" stroke="#222" stroke-width="0.7"/>
<circle cx="507" cy="337.4" r="1.75" fill="#8494FF" stroke="#222" stroke-width="0.7"/>
<circle cx="503.7" cy="348.7" r="1.75" fill="#8494FF" stroke="#222" stroke-width="0.7"/>
<circle cx="514.1" cy="355" r="1.75" fill="#8494FF" stroke="#222" stroke-width="0.7"/>
<circle cx="503" cy="373.8" r="1.75" fill="#8494FF" stroke="#222" stroke-width="0.7"/>
<path d="M534.26 220.5V267.8M533.06 220.5H535.46M533.06 267.8H535.46" stroke="#1a1a1a" stroke-width="0.9" fill="none"/>
<circle cx="537.6" cy="220.5" r="1.75" fill="#E68613" stroke="#222" stroke-width="0.7"/>
<circle cx="532.5" cy="243.5" r="1.75" fill="#E68613" stroke="#222" stroke-width="0.7"/>
<circle cx="529.7" cy="246.6" r="1.75" fill="#E68613" stroke="#222" stroke-width="0.7"/>
<circle cx="540.7" cy="250.9" r="1.75" fill="#E68613" stroke="#222" stroke-width="0.7"/>
<circle cx="534.8" cy="267.8" r="1.75" fill="#E68613" stroke="#222" stroke-width="0.7"/>
<path d="M558.94 230.7V285.5M557.74 230.7H560.14M557.74 285.5H560.14" stroke="#1a1a1a" stroke-width="0.9" fill="none"/>
<circle cx="558.1" cy="230.7" r="1.75" fill="#F8766D" stroke="#222" stroke-width="0.7"/>
<circle cx="553" cy="259.4" r="1.75" fill="#F8766D" stroke="#222" stroke-width="0.7"/>
<circle cx="563.3" cy="279.9" r="1.75" fill="#F8766D" stroke="#222" stroke-width="0.7"/>
<circle cx="565.8" cy="282.4" r="1.75" fill="#F8766D" stroke="#222" stroke-width="0.7"/>
<circle cx="553.5" cy="285.5" r="1.75" fill="#F8766D" stroke="#222" stroke-width="0.7"/>
<line x1="577.5" x2="680.8" y1="365.25" y2="365.25" stroke="#F4F4F4" stroke-width="0.9"/>
<line x1="577.5" x2="680.8" y1="322.95" y2="322.95" stroke="#F4F4F4" stroke-width="0.9"/>
<line x1="577.5" x2="680.8" y1="280.65" y2="280.65" stroke="#F4F4F4" stroke-width="0.9"/>
<line x1="577.5" x2="680.8" y1="238.35" y2="238.35" stroke="#F4F4F4" stroke-width="0.9"/>
<line x1="577.5" x2="680.8" y1="386.4" y2="386.4" stroke="#EFEFEF" stroke-width="1.3"/>
<line x1="577.5" x2="680.8" y1="344.1" y2="344.1" stroke="#EFEFEF" stroke-width="1.3"/>
<line x1="577.5" x2="680.8" y1="301.8" y2="301.8" stroke="#EFEFEF" stroke-width="1.3"/>
<line x1="577.5" x2="680.8" y1="259.5" y2="259.5" stroke="#EFEFEF" stroke-width="1.3"/>
<line x1="577.5" x2="680.8" y1="217.2" y2="217.2" stroke="#EFEFEF" stroke-width="1.3"/>
<line x1="592.3" x2="592.3" y1="212" y2="394.9" stroke="#EFEFEF" stroke-width="1.3"/>
<line x1="616.98" x2="616.98" y1="212" y2="394.9" stroke="#EFEFEF" stroke-width="1.3"/>
<line x1="641.66" x2="641.66" y1="212" y2="394.9" stroke="#EFEFEF" stroke-width="1.3"/>
<line x1="666.34" x2="666.34" y1="212" y2="394.9" stroke="#EFEFEF" stroke-width="1.3"/>
<rect x="581.19" y="306.1" width="22.21" height="80.3" fill="#0CB702" stroke="#000" stroke-width="0.8"/>
<rect x="605.87" y="333.2" width="22.21" height="53.2" fill="#8494FF" stroke="#000" stroke-width="0.8"/>
<rect x="630.55" y="267.7" width="22.21" height="118.7" fill="#E68613" stroke="#000" stroke-width="0.8"/>
<rect x="655.23" y="274.3" width="22.21" height="112.1" fill="#F8766D" stroke="#000" stroke-width="0.8"/>
<path d="M592.3 285.6V318.9M591.1 285.6H593.5M591.1 318.9H593.5" stroke="#1a1a1a" stroke-width="0.9" fill="none"/>
<circle cx="585.2" cy="285.6" r="1.75" fill="#0CB702" stroke="#222" stroke-width="0.7"/>
<circle cx="597" cy="295.3" r="1.75" fill="#0CB702" stroke="#222" stroke-width="0.7"/>
<circle cx="586.5" cy="310.7" r="1.75" fill="#0CB702" stroke="#222" stroke-width="0.7"/>
<circle cx="599.3" cy="318.9" r="1.75" fill="#0CB702" stroke="#222" stroke-width="0.7"/>
<circle cx="592" cy="318.4" r="1.75" fill="#0CB702" stroke="#222" stroke-width="0.7"/>
<path d="M616.98 323V344M615.78 323H618.18M615.78 344H618.18" stroke="#1a1a1a" stroke-width="0.9" fill="none"/>
<circle cx="621.8" cy="323" r="1.75" fill="#8494FF" stroke="#222" stroke-width="0.7"/>
<circle cx="612.9" cy="327.3" r="1.75" fill="#8494FF" stroke="#222" stroke-width="0.7"/>
<circle cx="617.2" cy="333.2" r="1.75" fill="#8494FF" stroke="#222" stroke-width="0.7"/>
<circle cx="619.3" cy="337.1" r="1.75" fill="#8494FF" stroke="#222" stroke-width="0.7"/>
<circle cx="609.8" cy="344" r="1.75" fill="#8494FF" stroke="#222" stroke-width="0.7"/>
<path d="M641.66 256.4V275.3M640.46 256.4H642.86M640.46 275.3H642.86" stroke="#1a1a1a" stroke-width="0.9" fill="none"/>
<circle cx="639.8" cy="256.4" r="1.75" fill="#E68613" stroke="#222" stroke-width="0.7"/>
<circle cx="634.1" cy="265.3" r="1.75" fill="#E68613" stroke="#222" stroke-width="0.7"/>
<circle cx="635.4" cy="268.9" r="1.75" fill="#E68613" stroke="#222" stroke-width="0.7"/>
<circle cx="646.2" cy="271" r="1.75" fill="#E68613" stroke="#222" stroke-width="0.7"/>
<circle cx="646.9" cy="275.3" r="1.75" fill="#E68613" stroke="#222" stroke-width="0.7"/>
<path d="M666.34 243.3V299.9M665.14 243.3H667.54M665.14 299.9H667.54" stroke="#1a1a1a" stroke-width="0.9" fill="none"/>
<circle cx="665.9" cy="243.3" r="1.75" fill="#F8766D" stroke="#222" stroke-width="0.7"/>
<circle cx="669.2" cy="270.5" r="1.75" fill="#F8766D" stroke="#222" stroke-width="0.7"/>
<circle cx="672.3" cy="275.6" r="1.75" fill="#F8766D" stroke="#222" stroke-width="0.7"/>
<circle cx="662.8" cy="280.7" r="1.75" fill="#F8766D" stroke="#222" stroke-width="0.7"/>
<circle cx="660.8" cy="299.9" r="1.75" fill="#F8766D" stroke="#222" stroke-width="0.7"/>
<text transform="translate(98.47,19) scale(1,1.02)" font-size="15.0" fill="#1a1a1a" text-anchor="middle">ADHD</text>
<text transform="translate(98.47,39.6) scale(1,1.02)" font-size="15.0" fill="#1a1a1a" text-anchor="middle">0.05</text>
<text transform="translate(204.75,19) scale(1,1.02)" font-size="15.0" fill="#1a1a1a" text-anchor="middle">AFF</text>
<text transform="translate(204.75,39.6) scale(1,1.02)" font-size="15.0" fill="#1a1a1a" text-anchor="middle">0.08</text>
<text transform="translate(311.04,19) scale(1,1.02)" font-size="15.0" fill="#1a1a1a" text-anchor="middle">AN</text>
<text transform="translate(311.04,39.6) scale(1,1.02)" font-size="15.0" fill="#1a1a1a" text-anchor="middle">0.01</text>
<text transform="translate(417.32,19) scale(1,1.02)" font-size="15.0" fill="#1a1a1a" text-anchor="middle">ASD</text>
<text transform="translate(417.32,39.6) scale(1,1.02)" font-size="15.0" fill="#1a1a1a" text-anchor="middle">0.01</text>
<text transform="translate(523.6,19) scale(1,1.02)" font-size="15.0" fill="#1a1a1a" text-anchor="middle">BD</text>
<text transform="translate(523.6,39.6) scale(1,1.02)" font-size="15.0" fill="#1a1a1a" text-anchor="middle">0.01</text>
<text transform="translate(629.88,19) scale(1,1.02)" font-size="15.0" fill="#1a1a1a" text-anchor="middle">SCZ</text>
<text transform="translate(629.88,39.6) scale(1,1.02)" font-size="15.0" fill="#1a1a1a" text-anchor="middle">0.01</text>
<text transform="translate(44.1,199.8) scale(1,1.045)" font-size="12.5" fill="#4d4d4d" text-anchor="end">0.00</text>
<text transform="translate(44.1,165.36) scale(1,1.045)" font-size="12.5" fill="#4d4d4d" text-anchor="end">0.02</text>
<text transform="translate(44.1,130.92) scale(1,1.045)" font-size="12.5" fill="#4d4d4d" text-anchor="end">0.04</text>
<text transform="translate(44.1,96.48) scale(1,1.045)" font-size="12.5" fill="#4d4d4d" text-anchor="end">0.06</text>
<text transform="translate(44.1,62.04) scale(1,1.045)" font-size="12.5" fill="#4d4d4d" text-anchor="end">0.08</text>
<text transform="translate(37.2,390.9) scale(1,1.045)" font-size="12.5" fill="#4d4d4d" text-anchor="end">0.0</text>
<text transform="translate(37.2,348.6) scale(1,1.045)" font-size="12.5" fill="#4d4d4d" text-anchor="end">0.3</text>
<text transform="translate(37.2,306.3) scale(1,1.045)" font-size="12.5" fill="#4d4d4d" text-anchor="end">0.6</text>
<text transform="translate(37.2,264) scale(1,1.045)" font-size="12.5" fill="#4d4d4d" text-anchor="end">0.9</text>
<text transform="translate(37.2,221.7) scale(1,1.045)" font-size="12.5" fill="#4d4d4d" text-anchor="end">1.2</text>
<text transform="translate(14.6,123) rotate(-90) scale(1,1.05)" font-size="14.9" fill="#000" text-anchor="middle">Adjusted liability R2</text>
<text transform="translate(14.6,303.4) rotate(-90) scale(1,1.05)" font-size="14.9" fill="#000" text-anchor="middle">logOR Q5 vs Q3</text>
<text transform="translate(8.1,24.8)" font-size="24.4" fill="#000" font-weight="bold">A</text>
<text transform="translate(8.1,233.8)" font-size="24.4" fill="#000" font-weight="bold">B</text>
<text transform="translate(69.7,448.2)" font-size="15.3" fill="#000">PGS</text>
<rect x="109.95" y="426.5" width="10.6" height="10.7" fill="#0CB702" stroke="#000" stroke-width="0.9"/>
<text transform="translate(128.9,436.1) scale(1,1.01)" font-size="12.4" fill="#000">PGS_single_GWAS</text>
<rect x="365.05" y="426.5" width="10.6" height="10.7" fill="#8494FF" stroke="#000" stroke-width="0.9"/>
<text transform="translate(384,436.1) scale(1,1.01)" font-size="12.4" fill="#000">PGS_BLUP</text>
<rect x="109.95" y="448.5" width="10.6" height="10.7" fill="#E68613" stroke="#000" stroke-width="0.9"/>
<text transform="translate(128.9,458.1) scale(1,1.01)" font-size="12.4" fill="#000">MultiPGS_lasso_including_single_GWAS</text>
<rect x="365.05" y="448.5" width="10.6" height="10.7" fill="#F8766D" stroke="#000" stroke-width="0.9"/>
<text transform="translate(384,458.1) scale(1,1.01)" font-size="12.4" fill="#000">MultiPGS_lasso_excluding_single_GWAS</text>
</svg>
</body></html>
